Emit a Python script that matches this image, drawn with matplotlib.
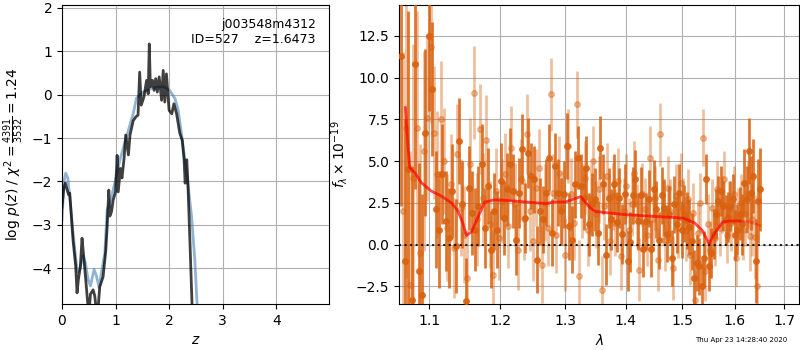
import numpy as np
import matplotlib
matplotlib.use('Agg')
import matplotlib.pyplot as plt
from matplotlib.ticker import NullLocator, MultipleLocator

# --- p(z) panel ---
z_fit = [0.0, 0.032, 0.063, 0.094, 0.125, 0.144, 0.163, 0.206, 0.256, 0.281,
         0.306, 0.343, 0.374, 0.405, 0.443, 0.487, 0.50, 0.531, 0.58, 0.612,
         0.643, 0.67, 0.705, 0.767, 0.817, 0.843, 0.874, 0.893, 0.924, 0.955,
         0.999, 1.03, 1.05, 1.09, 1.12, 1.16, 1.19, 1.24, 1.27, 1.33,
         1.38, 1.42, 1.45, 1.48, 1.53, 1.58, 1.61, 1.63, 1.65, 1.69,
         1.72, 1.75, 1.78, 1.815, 1.86, 1.89, 1.92, 1.95, 2.0, 2.05,
         2.09, 2.14, 2.2, 2.245, 2.28, 2.3, 2.33, 2.35, 2.39, 2.43,
         2.46]
logp_fit = [-2.6, -2.16, -2.04, -2.19, -2.31, -2.27, -2.59, -3.35, -3.96, -4.57,
            -4.26, -3.96, -3.31, -3.73, -4.26, -4.9, -5.1, -4.6, -4.5, -4.64,
            -5.0, -5.0, -4.43, -4.2, -3.6, -3.05, -2.2, -2.8, -2.7, -2.43,
            -2.24, -1.4, -2.24, -1.7, -1.92, -1.46, -0.93, -1.39, -0.93, -0.6,
            -0.51, -0.47, 0.52, -0.24, -0.05, 0.33, 0.02, 1.17, 0.18, 0.33,
            0.10, 0.37, 0.06, 0.41, -0.13, 0.56, -0.17, 0.48, -0.36, -0.44,
            -0.21, -0.44, -0.89, -1.05, -1.5, -2.04, -1.5, -2.0, -3.42, -4.9,
            -6.0]

z_prior = [0.0, 0.037, 0.069, 0.11, 0.144, 0.194, 0.238, 0.288, 0.331, 0.393,
           0.437, 0.487, 0.531, 0.599, 0.643, 0.693, 0.737, 0.80, 0.843, 0.893,
           0.986, 1.08, 1.205, 1.33, 1.39, 1.515, 1.70, 1.89, 2.01, 2.11,
           2.17, 2.23, 2.295, 2.357, 2.42, 2.48, 2.53, 2.56]
logp_prior = [-2.88, -2.0, -1.81, -1.93, -2.35, -3.04, -3.57, -4.1, -4.03, -3.72,
              -3.88, -4.26, -4.41, -4.03, -4.18, -4.45, -4.1, -3.65, -2.65, -2.5,
              -2.04, -1.51, -0.97, -0.44, -0.08, 0.06, 0.16, 0.19, 0.10, -0.09,
              -0.36, -0.89, -1.51, -2.12, -2.81, -3.8, -5.0, -6.0]

# --- spectrum panel: two sets of grism points ---
wave_a = [1.0625, 1.0671, 1.0717, 1.0763, 1.0809, 1.0855, 1.0901, 1.0947, 1.0993, 1.1039,
          1.1085, 1.1131, 1.1177, 1.1223, 1.1269, 1.1315, 1.1361, 1.1407, 1.1453, 1.1499,
          1.1545, 1.1591, 1.1637, 1.1683, 1.1729, 1.1775, 1.1821, 1.1867, 1.1913, 1.1959,
          1.2005, 1.2051, 1.2097, 1.2143, 1.2189, 1.2235, 1.2281, 1.2327, 1.2373, 1.2419,
          1.2465, 1.2511, 1.2557, 1.2603, 1.2649, 1.2695, 1.2741, 1.2787, 1.2833, 1.2879,
          1.2925, 1.2971, 1.3017, 1.3063, 1.3109, 1.3155, 1.3201, 1.3247, 1.3293, 1.3339,
          1.3385, 1.3431, 1.3477, 1.3523, 1.3569, 1.3615, 1.3661, 1.3707, 1.3753, 1.3799,
          1.3845, 1.3891, 1.3937, 1.3983, 1.4029, 1.4075, 1.4121, 1.4167, 1.4213, 1.4259,
          1.4305, 1.4351, 1.4397, 1.4443, 1.4489, 1.4535, 1.4581, 1.4627, 1.4673, 1.4719,
          1.4765, 1.4811, 1.4857, 1.4903, 1.4949, 1.4995, 1.5041, 1.5087, 1.5133, 1.5179,
          1.5225, 1.5271, 1.5317, 1.5363, 1.5409, 1.5455, 1.5501, 1.5547, 1.5593, 1.5639,
          1.5685, 1.5731, 1.5777, 1.5823, 1.5869, 1.5915, 1.5961, 1.6007, 1.6053, 1.6099,
          1.6145, 1.6191, 1.6237, 1.6283, 1.6329, 1.6375, 1.6421, 1.6467, 1.6513]
flux_a = [11.3, -1.0, 4.5, -3.3, 10.8, -1.6, -3.0, 6.7, 12.5, 9.3,
          2.1, 0.9, 4.2, 1.4, 0.4, 3.2, -0.1, 6.2, 2.4, -3.4,
          3.4, 1.9, 0.9, 2.3, 4.8, 1.0, 3.5, -0.3, 2.0, 0.9,
          3.8, 1.6, 3.3, 4.8, 3.2, 0.3, 3.1, 5.7, 1.6, 5.5,
          4.1, 3.9, -0.9, 2.0, 1.5, 3.1, 5.2, 0.7, 4.7, 3.1,
          2.0, 3.0, 5.9, 1.1, 0.3, 3.6, 5.2, 3.5, 2.8, 4.6,
          1.2, 2.4, 2.7, 0.7, 5.8, 3.6, -0.6, 2.8, 1.5, 3.6,
          1.35, 2.8, 0.65, 3.0, -1.0, 0.15, 2.95, 3.95, 1.4, 2.95,
          -0.24, 1.4, 2.75, -0.25, 3.35, 2.1, 0.25, 2.95, 2.2, 0.65,
          1.8, -0.8, 2.4, 1.2, 3.1, 0.9, 1.85, 1.45, 1.05, 0.2,
          -2.0, -1.1, -1.3, -2.5, -0.8, 3.9, -1.3, -0.5, 0.65, 1.85,
          2.6, 3.2, 2.3, 1.45, 1.65, 2.3, 2.7, 0.55, 0.9, 1.85,
          1.2, 3.7, 2.7, 5.6, 3.1, 4.1, -1.0, 2.6, 3.3]
err_a = [9.0, 8.5, 9.5, 8.0, 7.5, 6.5, 6.0, 5.0, 4.5, 4.0,
         3.5, 3.5, 3.0, 3.0, 3.0, 2.8, 2.8, 2.6, 2.6, 2.6,
         2.5, 2.5, 2.5, 2.4, 2.4, 2.4, 2.3, 2.3, 2.3, 2.3,
         2.3, 2.2, 2.2, 2.2, 2.2, 2.1, 2.1, 2.1, 2.1, 2.1,
         2.0, 2.0, 2.0, 2.0, 2.0, 2.0, 2.0, 2.0, 2.0, 2.0,
         2.0, 2.0, 2.0, 2.0, 2.0, 2.0, 1.9, 1.9, 1.9, 1.9,
         1.9, 1.9, 1.9, 1.9, 1.9, 1.8, 1.8, 1.8, 1.8, 1.8,
         1.8, 1.8, 1.8, 1.8, 1.8, 1.8, 1.7, 1.7, 1.7, 1.7,
         1.7, 1.7, 1.7, 1.7, 1.7, 1.7, 1.7, 1.7, 1.7, 1.7,
         1.7, 1.7, 1.7, 1.7, 1.7, 1.7, 1.7, 1.7, 1.7, 1.7,
         1.7, 1.7, 1.7, 1.6, 1.6, 1.5, 1.5, 1.5, 1.5, 1.5,
         1.5, 1.5, 1.5, 1.5, 1.5, 1.5, 1.5, 1.5, 1.5, 1.6,
         1.8, 2.0, 2.0, 2.0, 2.2, 2.2, 2.5, 2.5, 2.5]

wave_b = [1.0648, 1.0694, 1.0740, 1.0786, 1.0832, 1.0878, 1.0924, 1.0970, 1.1016, 1.1062,
          1.1108, 1.1154, 1.1200, 1.1246, 1.1292, 1.1338, 1.1384, 1.1430, 1.1476, 1.1522,
          1.1568, 1.1614, 1.1660, 1.1706, 1.1752, 1.1798, 1.1844, 1.1890, 1.1936, 1.1982,
          1.2028, 1.2074, 1.2120, 1.2166, 1.2212, 1.2258, 1.2304, 1.2350, 1.2396, 1.2442,
          1.2488, 1.2534, 1.2580, 1.2626, 1.2672, 1.2718, 1.2764, 1.2810, 1.2856, 1.2902,
          1.2948, 1.2994, 1.3040, 1.3086, 1.3132, 1.3178, 1.3224, 1.3270, 1.3316, 1.3362,
          1.3408, 1.3454, 1.3500, 1.3546, 1.3592, 1.3638, 1.3684, 1.3730, 1.3776, 1.3822,
          1.3868, 1.3914, 1.3960, 1.4006, 1.4052, 1.4098, 1.4144, 1.4190, 1.4236, 1.4282,
          1.4328, 1.4374, 1.4420, 1.4466, 1.4512, 1.4558, 1.4604, 1.4650, 1.4696, 1.4742,
          1.4788, 1.4834, 1.4880, 1.4926, 1.4972, 1.5018, 1.5064, 1.5110, 1.5156, 1.5202,
          1.5248, 1.5294, 1.5340, 1.5386, 1.5432, 1.5478, 1.5524, 1.5570, 1.5616, 1.5662,
          1.5708, 1.5754, 1.5800, 1.5846, 1.5892, 1.5938, 1.5984, 1.6030, 1.6076, 1.6122,
          1.6168, 1.6214, 1.6260, 1.6306, 1.6352, 1.6398, 1.6444]
flux_b = [2.0, 7.0, -2.4, 4.0, 7.0, -0.5, 5.6, 7.6, 11.8, 6.7,
          4.2, 7.5, 5.0, 1.0, 3.6, -0.2, 5.4, 2.2, 0.6, -2.0,
          4.8, 9.1, 1.5, 6.9, 2.8, 6.25, 1.2, -1.8, 3.2, 0.4,
          2.6, 4.2, 1.1, 5.8, 2.4, -0.3, 3.9, 1.5, 6.6, 2.0,
          0.2, 3.4, 4.6, -1.2, 2.5, 1.0, 9.0, 3.1, 0.6, 4.3,
          2.2, -0.6, 5.9, 3.0, 1.3, 8.4, -1.9, 2.6, 4.0, 0.9,
          2.7, 5.0, 1.8, 3.3, -2.7, 2.3, 4.1, 0.2, 2.9, 1.3,
          3.8, -0.7, 2.0, 3.5, 0.9, 2.4, 4.3, 1.7, -1.5, 3.0,
          2.1, 0.6, 5.2, 1.5, 2.8, -0.9, 6.6, 1.9, 0.3, 3.4,
          2.0, -1.4, 2.9, 1.0, 3.7, 2.2, 0.8, 2.7, -0.6, 1.9,
          -3.3, 0.7, 2.5, 6.4, -1.6, 1.2, -0.3, 2.2, 0.4, 3.3,
          1.0, 2.4, 3.9, 0.6, 2.1, 1.3, 3.0, -0.8, 1.7, 2.5,
          0.9, 1.8, 3.0, 0.5, 1.5, 0.45, -2.5]
err_b = [9.5, 9.0, 8.0, 8.0, 7.0, 6.5, 6.0, 5.0, 4.5, 4.0,
         3.8, 3.5, 3.2, 3.2, 3.0, 3.0, 3.0, 2.9, 2.9, 2.9,
         2.8, 2.8, 2.8, 2.7, 2.7, 2.7, 2.6, 2.6, 2.6, 2.5,
         2.5, 2.5, 2.5, 2.5, 2.5, 2.4, 2.4, 2.4, 2.4, 2.4,
         2.4, 2.3, 2.3, 2.3, 2.3, 2.3, 2.2, 2.3, 2.3, 2.2,
         2.2, 2.2, 2.2, 2.2, 2.2, 2.0, 2.2, 2.2, 2.2, 2.2,
         2.1, 2.1, 2.0, 2.0, 2.0, 2.0, 2.0, 2.0, 2.0, 2.0,
         2.0, 2.0, 2.0, 1.9, 1.9, 1.9, 1.9, 1.9, 1.9, 1.9,
         1.9, 1.9, 1.9, 1.9, 1.9, 1.9, 1.9, 1.9, 1.9, 1.9,
         1.9, 1.9, 1.9, 1.8, 1.8, 1.8, 1.8, 1.8, 1.8, 1.8,
         1.8, 1.8, 1.8, 1.7, 1.8, 1.8, 1.7, 1.7, 1.7, 1.7,
         1.7, 1.7, 1.7, 1.7, 1.7, 1.7, 1.7, 1.7, 1.7, 1.7,
         1.8, 1.9, 2.0, 2.1, 2.2, 2.5, 2.6]

model_wave = [1.0681, 1.0716, 1.0739, 1.0805, 1.0893, 1.1027, 1.1163, 1.1301, 1.1394, 1.1464,
              1.1511, 1.1581, 1.1677, 1.1773, 1.1918, 1.2095, 1.2446, 1.2704, 1.2812, 1.300,
              1.3245, 1.3397, 1.349, 1.3954, 1.4537, 1.502, 1.523, 1.5376, 1.5505, 1.5607,
              1.577, 1.590, 1.610, 1.630, 1.650]
model_flux = [8.2, 5.8, 4.6, 4.3, 3.7, 3.2, 2.9, 2.5, 2.0, 1.25,
              0.55, 0.75, 1.64, 2.54, 2.68, 2.64, 2.53, 2.45, 2.55, 2.55,
              2.87, 2.2, 1.98, 1.8, 1.68, 1.58, 1.3, 0.85, 0.05, 0.65,
              1.35, 1.41, 1.41, 1.35, 1.15]

xticks_spec = [1.1, 1.2, 1.3, 1.4, 1.5, 1.6, 1.7]
orange = '#d9620f'

fig = plt.figure(figsize=(8, 3.5), dpi=100)
ax1 = fig.add_axes([0.0775, 0.131, 0.334, 0.855])
ax2 = fig.add_axes([0.499, 0.131, 0.5, 0.855])

ax1.plot(z_prior, logp_prior, color='steelblue', alpha=0.6, lw=2)
ax1.plot(z_fit, logp_fit, color='k', alpha=0.75, lw=2)
ax1.set_xlim(0, 4.99)
ax1.set_ylim(-4.83, 2.07)
ax1.grid()
ax1.set_xlabel('$z$')
ax1.set_ylabel(r'log $p(z)$ / $\chi^2=\frac{4391}{3532}=1.24$')
ax1.text(0.95, 0.955, 'j003548m4312\nID=527    z=1.6473', transform=ax1.transAxes,
         ha='right', va='top', fontsize=9)

ax2.errorbar(wave_b, flux_b, yerr=err_b, fmt='o', color=orange, alpha=0.4,
             ms=4, elinewidth=2, capsize=0, zorder=2)
ax2.errorbar(wave_a, flux_a, yerr=err_a, fmt='o', color=orange, alpha=0.85,
             ms=4, elinewidth=2, capsize=0, zorder=3)
mw = np.array(model_wave)
mf = np.array(model_flux)
ax2.plot(mw[mw <= 1.61], mf[mw <= 1.61], color='red', alpha=0.7, lw=2, zorder=5)
ax2.plot(mw[mw >= 1.61], mf[mw >= 1.61], color='red', alpha=0.35, lw=2, zorder=5)
ax2.axhline(0, color='k', linestyle=':', lw=1.5, alpha=0.85, zorder=6)

ax2.set_xscale('log')
ax2.set_xticks(xticks_spec)
ax2.set_xticklabels(['%.1f' % t for t in xticks_spec])
ax2.xaxis.set_minor_locator(NullLocator())
ax2.set_xlim(1.06, 1.732)
ax2.set_ylim(-3.57, 14.35)
ax2.yaxis.set_major_locator(MultipleLocator(2.5))
ax2.grid()
ax2.set_xlabel(r'$\lambda$')
ax2.set_ylabel(r'$f_\lambda\times10^{-19}$')

fig.text(0.984, 0.029, 'Thu Apr 23 14:28:40 2020', ha='right', va='center', fontsize=5)

plt.savefig('out.png', dpi=100)
